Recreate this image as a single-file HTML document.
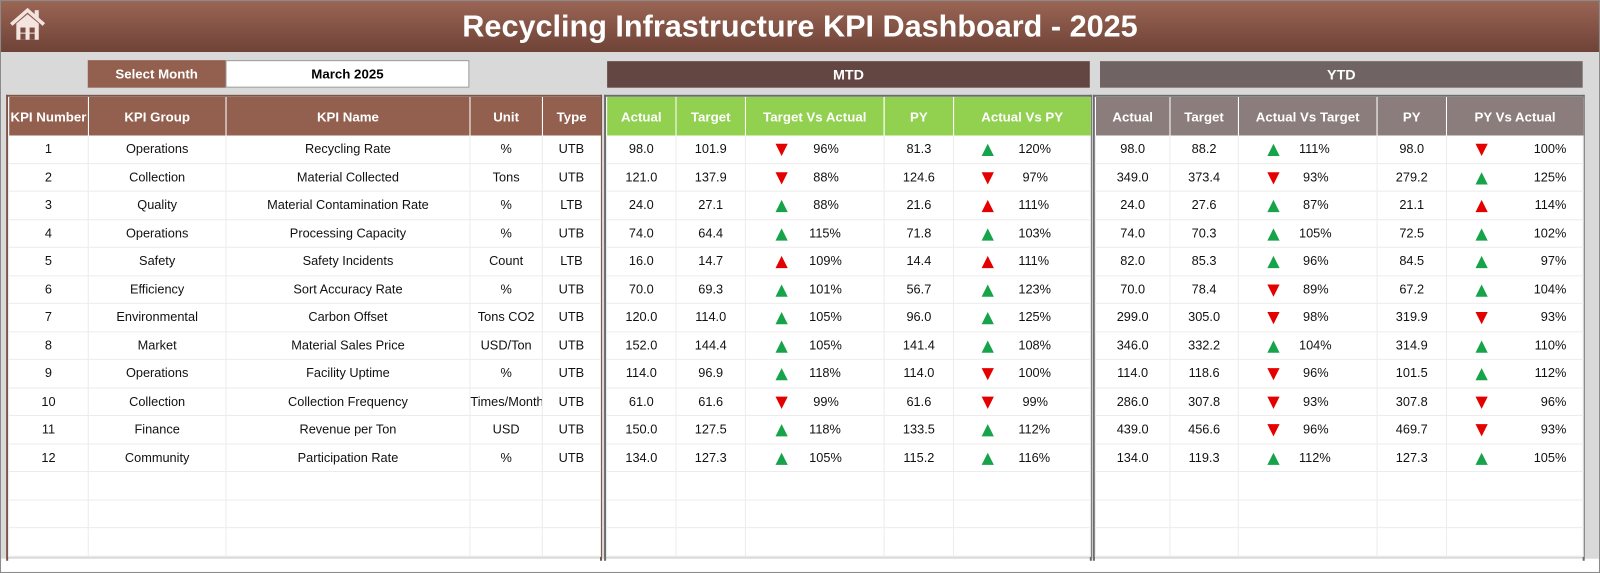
<!DOCTYPE html>
<html><head><meta charset="utf-8"><style>
html,body{margin:0;padding:0;background:#fff;}
#wrap{width:1568px;height:562px;transform:scale(1.020408,1.019573);transform-origin:0 0;position:relative;overflow:hidden;font-family:"Liberation Sans",sans-serif;background:#fff;}
.abs{position:absolute;}
#frame{left:0;top:0;width:1566px;height:560px;border:1px solid #8a8a8a;}
#hdr{left:1px;top:1px;width:1566px;height:50px;background:linear-gradient(#9a6554,#6f4337);color:#fff;font-weight:bold;font-size:30px;text-align:center;line-height:52px;}
#gray{left:1px;top:51px;width:1566px;height:497px;background:#d9d9d9;}
.sel{top:59px;height:27px;line-height:27px;font-size:13px;font-weight:bold;text-align:center;}
.ban{top:60px;height:26px;line-height:26px;color:#fff;font-weight:bold;font-size:14px;text-align:center;}
table{border-collapse:collapse;table-layout:fixed;position:absolute;background:#fff;}
td,th{padding:0;text-align:center;font-size:12.5px;color:#111;white-space:nowrap;overflow:hidden;}
th{height:38px;color:#fff;font-size:13px;font-weight:bold;border-left:1px solid rgba(255,255,255,.35);}
td{height:26.5px;border:1px solid #ececec;border-top:none;position:relative;}
.L th{background:#93604f;}
.M th{background:#92d050;}
.Y th{background:#8b7d7b;}
.tri{position:absolute;top:8px;width:0;height:0;border-left:6px solid transparent;border-right:6px solid transparent;}
.up{border-bottom:12px solid #16a34a;}
.dn{border-top:12px solid #e50000;}
.pc{position:absolute;top:0;bottom:0;display:flex;align-items:center;}
.pan{position:absolute;top:93px;height:455px;border:2px solid #6b6b6b;border-bottom:none;}
</style></head><body><div id="wrap">
<div class="abs" id="frame"></div>
<div class="abs" id="gray"></div>
<div class="abs" id="hdr">Recycling Infrastructure KPI Dashboard - 2025</div>
<svg class="abs" style="left:8px;top:7px" width="38" height="34" viewBox="0 0 38 34"><path d="M3 17 L19 3 L35 17" fill="none" stroke="#f3e4df" stroke-width="3.5"/><rect x="26" y="3" width="4" height="8" fill="#f3e4df"/><path d="M8 16 V32 H30 V16 L19 7Z" fill="#f3e4df"/><rect x="12" y="20" width="5" height="5" fill="#7a4c40"/><rect x="21" y="20" width="5" height="5" fill="#7a4c40"/><rect x="12" y="26" width="5" height="6" fill="#7a4c40"/><rect x="21" y="26" width="5" height="6" fill="#7a4c40"/></svg>
<div class="abs sel" style="left:86px;width:135px;background:#93604f;color:#fff">Select Month</div>
<div class="abs sel" style="left:221px;width:237px;background:#fff;border:1px solid #999;height:25px;line-height:25px">March 2025</div>
<div class="abs ban" style="left:595px;width:473px;background:#634541">MTD</div>
<div class="abs ban" style="left:1078px;width:473px;background:#706363">YTD</div>
<div class="pan" style="left:6px;width:580px;border-color:#7a5548"></div>
<div class="pan" style="left:592px;width:474px"></div>
<div class="pan" style="left:1071px;width:478px"></div>

<table class="L" style="left:8px;top:95px;width:580px">
<colgroup><col style="width:78px"><col style="width:135px"><col style="width:239px"><col style="width:71px"><col style="width:57px"></colgroup>
<tr><th>KPI Number</th><th>KPI Group</th><th>KPI Name</th><th>Unit</th><th>Type</th></tr>
<tr><td>1</td><td>Operations</td><td>Recycling Rate</td><td>%</td><td>UTB</td></tr>
<tr><td>2</td><td>Collection</td><td>Material Collected</td><td>Tons</td><td>UTB</td></tr>
<tr><td>3</td><td>Quality</td><td>Material Contamination Rate</td><td>%</td><td>LTB</td></tr>
<tr><td>4</td><td>Operations</td><td>Processing Capacity</td><td>%</td><td>UTB</td></tr>
<tr><td>5</td><td>Safety</td><td>Safety Incidents</td><td>Count</td><td>LTB</td></tr>
<tr><td>6</td><td>Efficiency</td><td>Sort Accuracy Rate</td><td>%</td><td>UTB</td></tr>
<tr><td>7</td><td>Environmental</td><td>Carbon Offset</td><td>Tons CO2</td><td>UTB</td></tr>
<tr><td>8</td><td>Market</td><td>Material Sales Price</td><td>USD/Ton</td><td>UTB</td></tr>
<tr><td>9</td><td>Operations</td><td>Facility Uptime</td><td>%</td><td>UTB</td></tr>
<tr><td>10</td><td>Collection</td><td>Collection Frequency</td><td>Times/Month</td><td>UTB</td></tr>
<tr><td>11</td><td>Finance</td><td>Revenue per Ton</td><td>USD</td><td>UTB</td></tr>
<tr><td>12</td><td>Community</td><td>Participation Rate</td><td>%</td><td>UTB</td></tr>
<tr><td></td><td></td><td></td><td></td><td></td></tr>
<tr><td></td><td></td><td></td><td></td><td></td></tr>
<tr><td></td><td></td><td></td><td></td><td></td></tr>
</table>

<table class="M" style="left:594px;top:95px;width:474px">
<colgroup><col style="width:68px"><col style="width:68px"><col style="width:136px"><col style="width:68px"><col style="width:134px"></colgroup>
<tr><th>Actual</th><th>Target</th><th>Target Vs Actual</th><th>PY</th><th>Actual Vs PY</th></tr>
<tr><td>98.0</td><td>101.9</td><td><i class="tri dn" style="left:29px"></i><span class="pc" style="left:66px">96%</span></td><td>81.3</td><td><i class="tri up" style="left:27px"></i><span class="pc" style="left:63px">120%</span></td></tr>
<tr><td>121.0</td><td>137.9</td><td><i class="tri dn" style="left:29px"></i><span class="pc" style="left:66px">88%</span></td><td>124.6</td><td><i class="tri dn" style="left:27px"></i><span class="pc" style="left:67px">97%</span></td></tr>
<tr><td>24.0</td><td>27.1</td><td><i class="tri up" style="left:29px"></i><span class="pc" style="left:66px">88%</span></td><td>21.6</td><td><i class="tri up" style="left:27px;border-bottom-color:#e50000"></i><span class="pc" style="left:63px">111%</span></td></tr>
<tr><td>74.0</td><td>64.4</td><td><i class="tri up" style="left:29px"></i><span class="pc" style="left:62px">115%</span></td><td>71.8</td><td><i class="tri up" style="left:27px"></i><span class="pc" style="left:63px">103%</span></td></tr>
<tr><td>16.0</td><td>14.7</td><td><i class="tri up" style="left:29px;border-bottom-color:#e50000"></i><span class="pc" style="left:62px">109%</span></td><td>14.4</td><td><i class="tri up" style="left:27px;border-bottom-color:#e50000"></i><span class="pc" style="left:63px">111%</span></td></tr>
<tr><td>70.0</td><td>69.3</td><td><i class="tri up" style="left:29px"></i><span class="pc" style="left:62px">101%</span></td><td>56.7</td><td><i class="tri up" style="left:27px"></i><span class="pc" style="left:63px">123%</span></td></tr>
<tr><td>120.0</td><td>114.0</td><td><i class="tri up" style="left:29px"></i><span class="pc" style="left:62px">105%</span></td><td>96.0</td><td><i class="tri up" style="left:27px"></i><span class="pc" style="left:63px">125%</span></td></tr>
<tr><td>152.0</td><td>144.4</td><td><i class="tri up" style="left:29px"></i><span class="pc" style="left:62px">105%</span></td><td>141.4</td><td><i class="tri up" style="left:27px"></i><span class="pc" style="left:63px">108%</span></td></tr>
<tr><td>114.0</td><td>96.9</td><td><i class="tri up" style="left:29px"></i><span class="pc" style="left:62px">118%</span></td><td>114.0</td><td><i class="tri dn" style="left:27px"></i><span class="pc" style="left:63px">100%</span></td></tr>
<tr><td>61.0</td><td>61.6</td><td><i class="tri dn" style="left:29px"></i><span class="pc" style="left:66px">99%</span></td><td>61.6</td><td><i class="tri dn" style="left:27px"></i><span class="pc" style="left:67px">99%</span></td></tr>
<tr><td>150.0</td><td>127.5</td><td><i class="tri up" style="left:29px"></i><span class="pc" style="left:62px">118%</span></td><td>133.5</td><td><i class="tri up" style="left:27px"></i><span class="pc" style="left:63px">112%</span></td></tr>
<tr><td>134.0</td><td>127.3</td><td><i class="tri up" style="left:29px"></i><span class="pc" style="left:62px">105%</span></td><td>115.2</td><td><i class="tri up" style="left:27px"></i><span class="pc" style="left:63px">116%</span></td></tr>
<tr><td></td><td></td><td></td><td></td><td></td></tr>
<tr><td></td><td></td><td></td><td></td><td></td></tr>
<tr><td></td><td></td><td></td><td></td><td></td></tr>
</table>

<table class="Y" style="left:1073px;top:95px;width:478px">
<colgroup><col style="width:73px"><col style="width:67px"><col style="width:136px"><col style="width:68px"><col style="width:134px"></colgroup>
<tr><th>Actual</th><th>Target</th><th>Actual Vs Target</th><th>PY</th><th>PY Vs Actual</th></tr>
<tr><td>98.0</td><td>88.2</td><td><i class="tri up" style="left:28px"></i><span class="pc" style="left:59px">111%</span></td><td>98.0</td><td><i class="tri dn" style="left:28px"></i><span class="pc" style="right:16px">100%</span></td></tr>
<tr><td>349.0</td><td>373.4</td><td><i class="tri dn" style="left:28px"></i><span class="pc" style="left:63px">93%</span></td><td>279.2</td><td><i class="tri up" style="left:28px"></i><span class="pc" style="right:16px">125%</span></td></tr>
<tr><td>24.0</td><td>27.6</td><td><i class="tri up" style="left:28px"></i><span class="pc" style="left:63px">87%</span></td><td>21.1</td><td><i class="tri up" style="left:28px;border-bottom-color:#e50000"></i><span class="pc" style="right:16px">114%</span></td></tr>
<tr><td>74.0</td><td>70.3</td><td><i class="tri up" style="left:28px"></i><span class="pc" style="left:59px">105%</span></td><td>72.5</td><td><i class="tri up" style="left:28px"></i><span class="pc" style="right:16px">102%</span></td></tr>
<tr><td>82.0</td><td>85.3</td><td><i class="tri up" style="left:28px"></i><span class="pc" style="left:63px">96%</span></td><td>84.5</td><td><i class="tri up" style="left:28px"></i><span class="pc" style="right:16px">97%</span></td></tr>
<tr><td>70.0</td><td>78.4</td><td><i class="tri dn" style="left:28px"></i><span class="pc" style="left:63px">89%</span></td><td>67.2</td><td><i class="tri up" style="left:28px"></i><span class="pc" style="right:16px">104%</span></td></tr>
<tr><td>299.0</td><td>305.0</td><td><i class="tri dn" style="left:28px"></i><span class="pc" style="left:63px">98%</span></td><td>319.9</td><td><i class="tri dn" style="left:28px"></i><span class="pc" style="right:16px">93%</span></td></tr>
<tr><td>346.0</td><td>332.2</td><td><i class="tri up" style="left:28px"></i><span class="pc" style="left:59px">104%</span></td><td>314.9</td><td><i class="tri up" style="left:28px"></i><span class="pc" style="right:16px">110%</span></td></tr>
<tr><td>114.0</td><td>118.6</td><td><i class="tri dn" style="left:28px"></i><span class="pc" style="left:63px">96%</span></td><td>101.5</td><td><i class="tri up" style="left:28px"></i><span class="pc" style="right:16px">112%</span></td></tr>
<tr><td>286.0</td><td>307.8</td><td><i class="tri dn" style="left:28px"></i><span class="pc" style="left:63px">93%</span></td><td>307.8</td><td><i class="tri dn" style="left:28px"></i><span class="pc" style="right:16px">96%</span></td></tr>
<tr><td>439.0</td><td>456.6</td><td><i class="tri dn" style="left:28px"></i><span class="pc" style="left:63px">96%</span></td><td>469.7</td><td><i class="tri dn" style="left:28px"></i><span class="pc" style="right:16px">93%</span></td></tr>
<tr><td>134.0</td><td>119.3</td><td><i class="tri up" style="left:28px"></i><span class="pc" style="left:59px">112%</span></td><td>127.3</td><td><i class="tri up" style="left:28px"></i><span class="pc" style="right:16px">105%</span></td></tr>
<tr><td></td><td></td><td></td><td></td><td></td></tr>
<tr><td></td><td></td><td></td><td></td><td></td></tr>
<tr><td></td><td></td><td></td><td></td><td></td></tr>
</table>
</div></body></html>
